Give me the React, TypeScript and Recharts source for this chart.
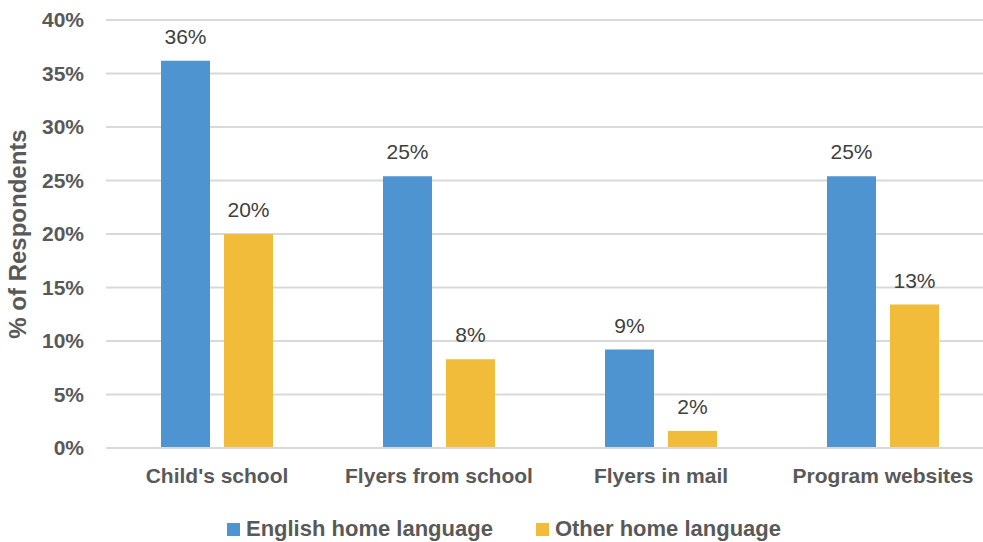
import React from "react";
import { BarChart, Bar, XAxis, YAxis, CartesianGrid, LabelList, Legend } from "recharts";

const categories = ["Child's school", "Flyers from school", "Flyers in mail", "Program websites"];
const englishHome = [36.2, 25.4, 9.2, 25.4];
const otherHome = [20.0, 8.3, 1.6, 13.4];
const yTicks = [0, 5, 10, 15, 20, 25, 30, 35, 40];
const seriesNames = ["English home language", "Other home language"];

const BLUE = "#4E94D0";
const YELLOW = "#F0BC3A";
const TEXT = "#595959";
const FONT = "'Liberation Sans', Arial, sans-serif";

const data = categories.map((c, i) => ({ name: c, en: englishHome[i], other: otherHome[i] }));

const renderLegend = () => (
  <div style={{ display: "flex", justifyContent: "center", alignItems: "center", fontFamily: FONT, fontWeight: 700, fontSize: 22, color: TEXT, lineHeight: "26px" }}>
    {[BLUE, YELLOW].map((col, i) => (
      <div key={i} style={{ display: "flex", alignItems: "center", marginRight: i === 0 ? 43 : 0 }}>
        <div style={{ width: 13, height: 13, background: col, marginRight: 6 }} />
        <span>{seriesNames[i]}</span>
      </div>
    ))}
  </div>
);

export default function App() {
  return (
    <div style={{ position: "absolute", left: 0, top: 0, width: 983, height: 542, overflow: "hidden", background: "#fff" }}>
      <BarChart
        width={995}
        height={542}
        data={data}
        margin={{ top: 20, right: 1, left: 0, bottom: 64 }}
        barSize={49}
        barGap={14}
      >
        <CartesianGrid vertical={false} stroke="#D9D9D9" strokeWidth={2} />
        <XAxis
          dataKey="name"
          height={30}
          axisLine={{ stroke: "#D9D9D9", strokeWidth: 2 }}
          tickLine={false}
          tickSize={0}
          tickMargin={20}
          tick={{ fill: TEXT, fontFamily: FONT, fontWeight: 700, fontSize: 21 }}
          interval={0}
        />
        <YAxis
          width={106}
          domain={[0, 40]}
          ticks={yTicks}
          tickFormatter={(v: number) => `${v}%`}
          axisLine={false}
          tickLine={false}
          tickSize={0}
          tickMargin={22}
          tick={{ fill: TEXT, fontFamily: FONT, fontWeight: 700, fontSize: 21 }}
          label={{
            value: "% of Respondents",
            angle: -90,
            position: "insideLeft",
            dx: 12,
            style: { fill: TEXT, fontFamily: FONT, fontWeight: 700, fontSize: 24, textAnchor: "middle" },
          }}
        />
        <Legend
          layout="horizontal"
          verticalAlign="middle"
          align="center"
          content={renderLegend}
          wrapperStyle={{ left: 4, width: 1000, top: 516 }}
        />
        <Bar dataKey="en" name={seriesNames[0]} fill={BLUE} isAnimationActive={false}>
          <LabelList
            dataKey="en"
            position="top"
            offset={17}
            formatter={(v: number) => `${Math.round(v)}%`}
            style={{ fill: "#404040", fontFamily: FONT, fontSize: 21 }}
          />
        </Bar>
        <Bar dataKey="other" name={seriesNames[1]} fill={YELLOW} isAnimationActive={false}>
          <LabelList
            dataKey="other"
            position="top"
            offset={17}
            formatter={(v: number) => `${Math.round(v)}%`}
            style={{ fill: "#404040", fontFamily: FONT, fontSize: 21 }}
          />
        </Bar>
      </BarChart>
    </div>
  );
}
